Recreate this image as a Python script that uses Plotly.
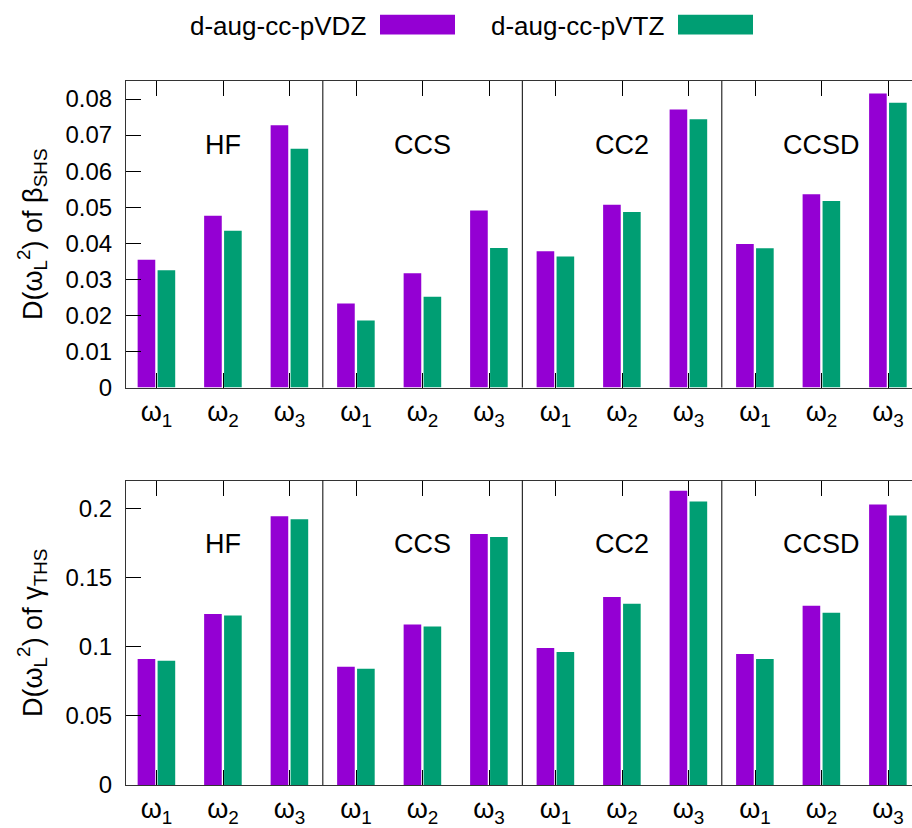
import plotly.graph_objects as go

# ---------------- data ----------------
methods = ["HF", "CCS", "CC2", "CCSD"]
freq_labels = ["ω<sub>1</sub>", "ω<sub>2</sub>", "ω<sub>3</sub>"]
series_names = ["d-aug-cc-pVDZ", "d-aug-cc-pVTZ"]

beta_vdz = [0.0354, 0.0476, 0.0727,   # HF
            0.0233, 0.0317, 0.0491,   # CCS
            0.0378, 0.0507, 0.0771,   # CC2
            0.0398, 0.0536, 0.0815]   # CCSD
beta_vtz = [0.0325, 0.0435, 0.0662,
            0.0186, 0.0252, 0.0387,
            0.0363, 0.0487, 0.0744,
            0.0386, 0.0517, 0.0790]

gamma_vdz = [0.0911, 0.1236, 0.1941,
             0.0854, 0.1160, 0.1813,
             0.0989, 0.1359, 0.2126,
             0.0947, 0.1295, 0.2026]
gamma_vtz = [0.0897, 0.1224, 0.1920,
             0.0840, 0.1146, 0.1792,
             0.0961, 0.1309, 0.2048,
             0.0911, 0.1245, 0.1948]

beta_ticks = [0, 0.01, 0.02, 0.03, 0.04, 0.05, 0.06, 0.07, 0.08]
beta_ticktext = ["0", "0.01", "0.02", "0.03", "0.04", "0.05", "0.06", "0.07", "0.08"]
gamma_ticks = [0, 0.05, 0.1, 0.15, 0.2]
gamma_ticktext = ["0", "0.05", "0.1", "0.15", "0.2"]

beta_title = "D(ω<sub>L</sub><sup>2</sup>) of β<sub>SHS</sub>"
gamma_title = "D(ω<sub>L</sub><sup>2</sup>) of γ<sub>THS</sub>"

# ---------------- styling ----------------
FONT = "Liberation Sans, Arial, sans-serif"
PURPLE = "#9400D3"
GREEN = "#009E73"
colors = [PURPLE, GREEN]

n_per = len(freq_labels)
cats = list(range(len(methods) * n_per))
ticktext = freq_labels * len(methods)

W, H = 912, 828
ML, MR, MT, MB = 126, 0, 81, 35
PW = W - ML - MR
PH = H - MT - MB

fig = go.Figure()

bar_w = 0.265
offsets = [-0.285, 0.015]

rows = [
    (beta_vdz, beta_vtz, "x", "y"),
    (gamma_vdz, gamma_vtz, "x2", "y2"),
]
for r, (v1, v2, xa, ya) in enumerate(rows):
    for s, vals in enumerate([v1, v2]):
        fig.add_trace(go.Bar(
            x=cats, y=vals, name=series_names[s],
            marker=dict(color=colors[s], line=dict(width=0)),
            width=bar_w, offset=offsets[s],
            xaxis=xa, yaxis=ya, showlegend=False,
        ))

axis_common = dict(
    showgrid=False, zeroline=False, showline=True, linecolor="#333333",
    linewidth=1, ticks="inside", ticklen=15, tickcolor="black",
)
yfont = dict(family=FONT, size=24, color="black")
xfont = dict(family=FONT, size=27, color="black")
tfont = dict(family=FONT, size=27, color="black")

xr = [-0.46, 11.36]
fig.update_layout(
    width=W, height=H,
    margin=dict(l=ML, r=MR, t=MT, b=MB),
    plot_bgcolor="white", paper_bgcolor="white",
    barmode="overlay",
    font=dict(family=FONT, color="black"),
    xaxis=dict(domain=[0, 1], range=xr, anchor="y", tickvals=cats,
               ticktext=ticktext, mirror="ticks", ticklabelstandoff=0,
               tickfont=xfont, **axis_common),
    yaxis=dict(domain=[0.5646, 1], range=[0, 0.085], anchor="x",
               tickvals=beta_ticks, ticktext=beta_ticktext,
               mirror=False, ticklabelstandoff=8, tickfont=yfont,
               title=dict(text=beta_title, standoff=15, font=tfont),
               **axis_common),
    xaxis2=dict(domain=[0, 1], range=xr, anchor="y2", tickvals=cats,
                ticktext=ticktext, mirror="ticks", ticklabelstandoff=0,
                tickfont=xfont, **axis_common),
    yaxis2=dict(domain=[0, 0.4325], range=[0, 0.22], anchor="x2",
                tickvals=gamma_ticks, ticktext=gamma_ticktext,
                mirror=False, ticklabelstandoff=8, tickfont=yfont,
                title=dict(text=gamma_title, standoff=15, font=tfont),
                **axis_common),
    showlegend=False,
)

# panel separators and method labels
for xa, ya in [("x", "y"), ("x2", "y2")]:
    for m in range(1, len(methods)):
        sep = m * n_per - 0.5
        fig.add_shape(type="line", xref=xa, yref=ya + " domain",
                      x0=sep, x1=sep, y0=0, y1=1,
                      line=dict(color="black", width=1))
    for m, name in enumerate(methods):
        fig.add_annotation(text=name, xref=xa, yref=ya + " domain",
                           x=m * n_per + 1, y=0.79, showarrow=False,
                           xanchor="center", yanchor="middle",
                           font=dict(family=FONT, size=27, color="black"))

# legend (text then swatch, as in the reference)
def px_x(p):
    return (p - ML) / PW

def px_y(p):
    return (H - MB - p) / PH

legend_items = [(series_names[0], PURPLE, 368, 380, 455),
                (series_names[1], GREEN, 666, 678, 753)]
for name, col, text_right, sx0, sx1 in legend_items:
    fig.add_annotation(text=name, xref="paper", yref="paper",
                       x=px_x(text_right), y=px_y(25), showarrow=False,
                       xanchor="right", yanchor="middle",
                       font=dict(family=FONT, size=26, color="black"))
    fig.add_shape(type="rect", xref="paper", yref="paper",
                  x0=px_x(sx0), x1=px_x(sx1), y0=px_y(34), y1=px_y(14),
                  fillcolor=col, line=dict(width=0))

fig.write_html("out.html")
